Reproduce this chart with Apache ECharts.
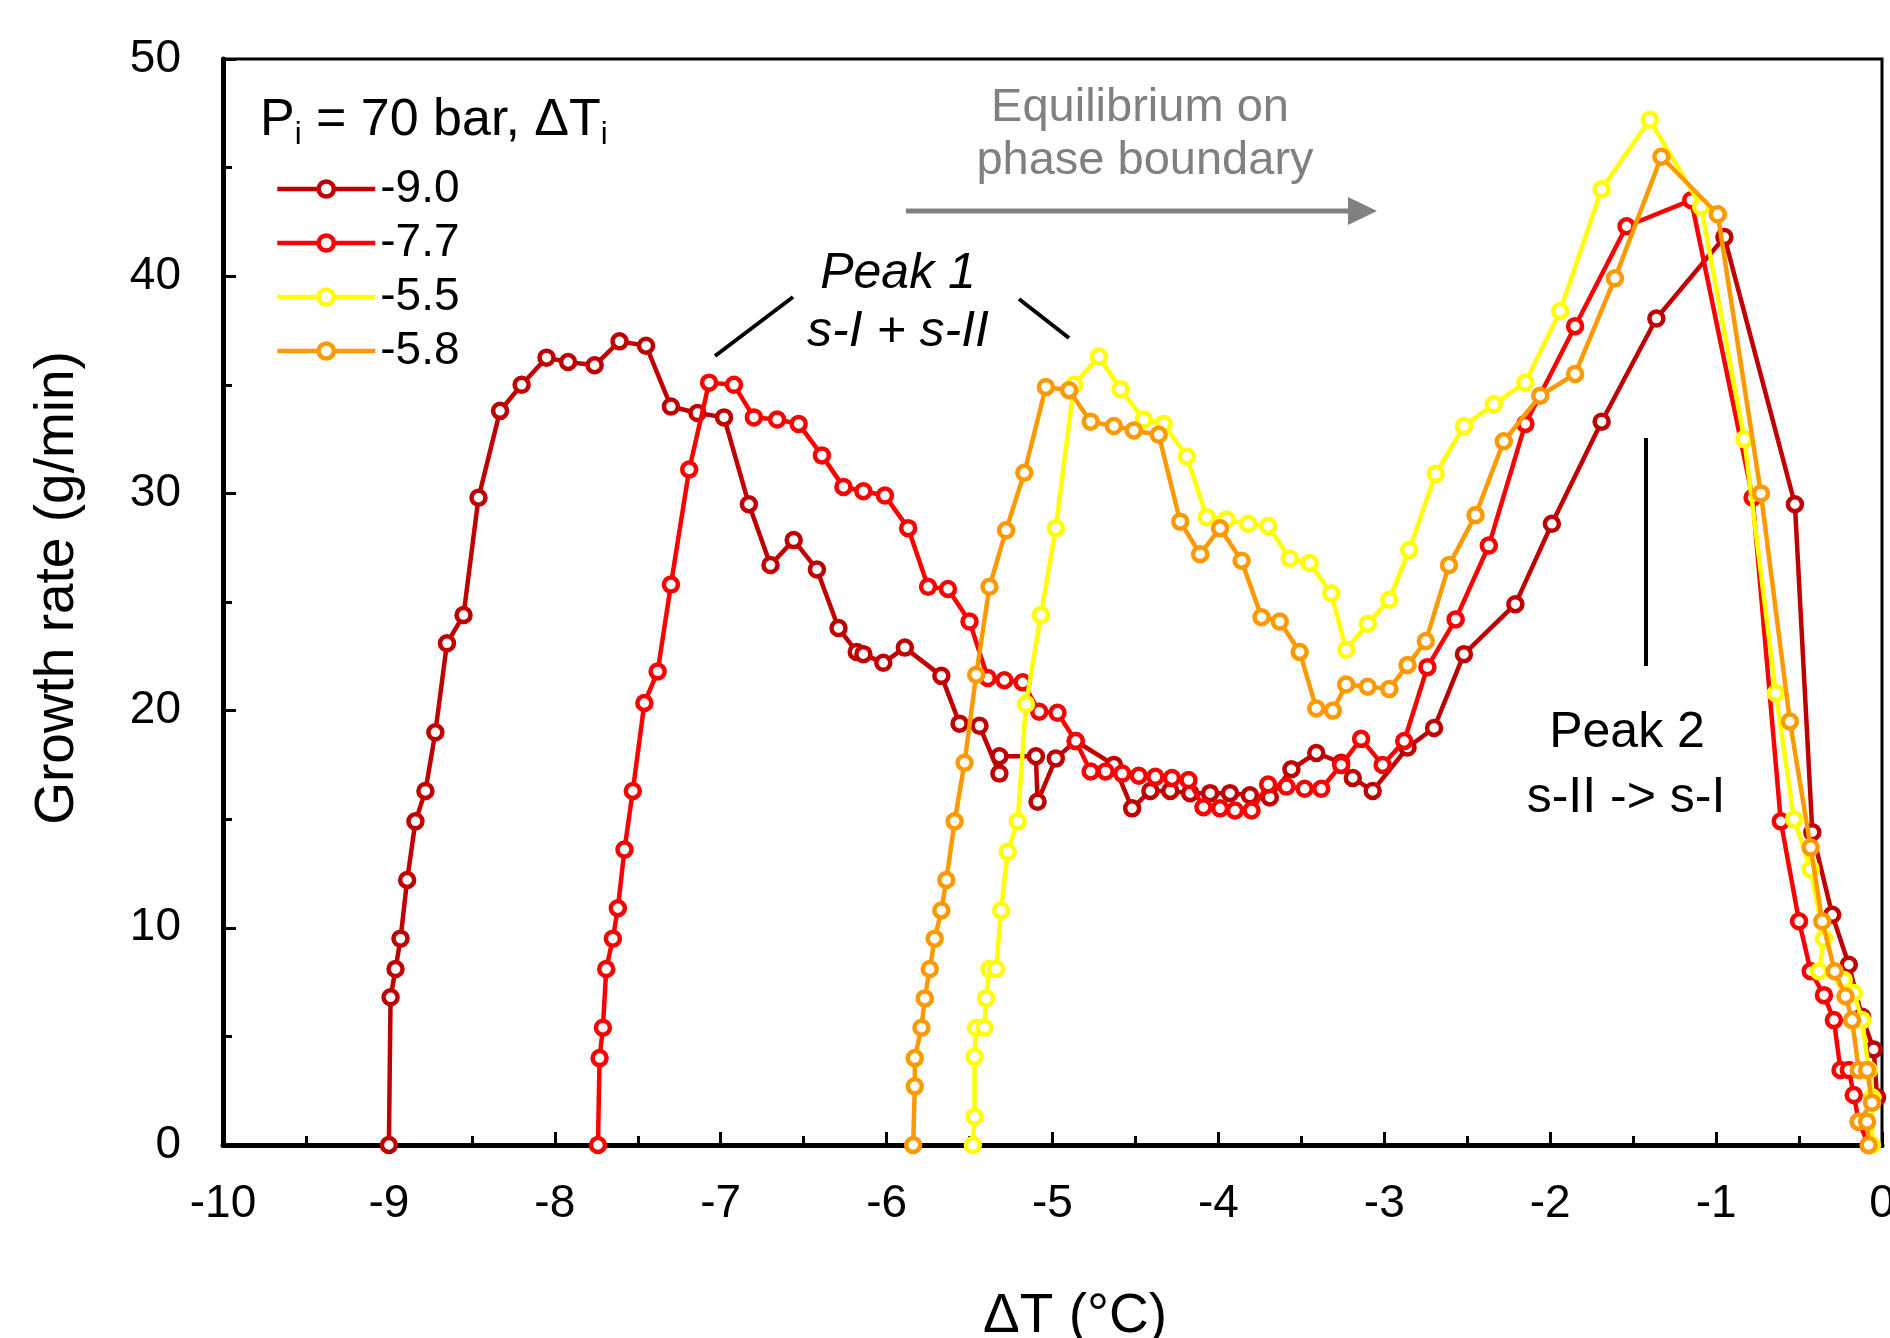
<!DOCTYPE html>
<html>
<head>
<meta charset="utf-8">
<script src="https://cdn.jsdelivr.net/npm/echarts@6/dist/echarts.min.js"></script>
<style>
html,body{margin:0;padding:0;background:#fff;}
#chart{width:1890px;height:1338px;}
</style>
</head>
<body>
<div id="chart"></div>
<script>
// ---- data (ΔT in °C, growth rate in g/min) ----
const seriesNames = ['-9.0', '-7.7', '-5.5', '-5.8'];
const seriesColors = ['#C00000', '#FF0000', '#FFFF00', '#FF9900'];

const dT_m90 = [-9.00,-8.99,-8.96,-8.93,-8.89,-8.84,-8.78,-8.72,-8.65,-8.55,-8.46,-8.33,-8.20,-8.05,-7.92,-7.76,-7.61,-7.45,-7.30,-7.14,-6.98,-6.83,-6.70,-6.56,-6.42,-6.29,-6.18,-6.14,-6.02,-5.89,-5.67,-5.56,-5.44,-5.32,-5.32,-5.10,-5.09,-4.98,-4.86,-4.63,-4.52,-4.41,-4.29,-4.17,-4.05,-3.93,-3.81,-3.69,-3.56,-3.41,-3.26,-3.19,-3.07,-2.86,-2.70,-2.52,-2.21,-1.99,-1.69,-1.36,-0.95,-0.525,-0.42,-0.30,-0.20,-0.12,-0.05,-0.03];
const rate_m90 = [0,6.8,8.1,9.5,12.2,14.9,16.3,19.0,23.1,24.4,29.8,33.8,35.0,36.25,36.05,35.9,37.0,36.8,34.0,33.7,33.5,29.5,26.7,27.85,26.5,23.8,22.7,22.6,22.2,22.9,21.6,19.4,19.3,17.1,17.9,17.9,15.8,17.8,18.6,17.5,15.5,16.3,16.3,16.2,16.2,16.2,16.1,16.0,17.3,18.05,17.6,16.9,16.3,18.3,19.2,22.6,24.9,28.6,33.3,38.05,41.8,29.5,14.4,10.6,8.3,5.9,4.4,2.2];

const dT_m77 = [-7.74,-7.73,-7.71,-7.69,-7.65,-7.62,-7.58,-7.53,-7.46,-7.38,-7.30,-7.19,-7.07,-6.92,-6.80,-6.66,-6.53,-6.39,-6.26,-6.14,-6.01,-5.87,-5.75,-5.63,-5.50,-5.39,-5.29,-5.18,-5.08,-4.97,-4.86,-4.77,-4.68,-4.58,-4.48,-4.38,-4.28,-4.18,-4.09,-3.99,-3.90,-3.80,-3.70,-3.59,-3.48,-3.38,-3.26,-3.14,-3.01,-2.88,-2.74,-2.57,-2.37,-2.15,-1.85,-1.54,-1.15,-0.78,-0.61,-0.50,-0.43,-0.35,-0.29,-0.25,-0.20,-0.17,-0.14,-0.08];
const rate_m77 = [0,4.0,5.4,8.1,9.5,10.9,13.6,16.3,20.35,21.8,25.8,31.1,35.1,35.0,33.5,33.4,33.2,31.75,30.3,30.1,29.9,28.4,25.7,25.6,24.1,21.5,21.4,21.3,19.95,19.9,18.6,17.2,17.2,17.1,17.0,16.95,16.9,16.8,15.55,15.5,15.4,15.4,16.6,16.5,16.4,16.4,17.5,18.7,17.5,18.6,22.0,24.2,27.6,33.2,37.7,42.3,43.5,29.8,14.9,10.3,8.0,6.9,5.75,3.45,3.45,2.3,1.07,0];

const dT_m55 = [-5.48,-5.47,-5.47,-5.46,-5.41,-5.40,-5.38,-5.34,-5.31,-5.27,-5.21,-5.16,-5.07,-4.98,-4.87,-4.72,-4.59,-4.45,-4.33,-4.19,-4.07,-3.95,-3.82,-3.70,-3.57,-3.45,-3.32,-3.23,-3.10,-2.97,-2.85,-2.69,-2.52,-2.34,-2.15,-1.94,-1.69,-1.40,-1.09,-0.83,-0.64,-0.53,-0.43,-0.35,-0.38,-0.23,-0.17,-0.12,-0.08,-0.06,-0.06];
const rate_m55 = [0,1.3,4.06,5.4,5.4,6.75,8.1,8.1,10.8,13.5,14.9,20.3,24.4,28.4,35.0,36.3,34.8,33.4,33.2,31.7,28.9,28.8,28.6,28.5,27.0,26.8,25.4,22.8,24.0,25.1,27.4,30.9,33.1,34.1,35.1,38.4,44.0,47.2,43.2,32.5,20.8,15.0,12.7,9.5,8.0,7.6,7.0,5.75,3.45,2.2,0];

const dT_m58 = [-5.84,-5.83,-5.83,-5.79,-5.77,-5.74,-5.71,-5.67,-5.64,-5.59,-5.53,-5.46,-5.38,-5.28,-5.17,-5.04,-4.90,-4.77,-4.63,-4.51,-4.36,-4.23,-4.11,-3.99,-3.86,-3.74,-3.63,-3.51,-3.41,-3.31,-3.23,-3.10,-2.97,-2.86,-2.75,-2.61,-2.45,-2.28,-2.06,-1.85,-1.61,-1.33,-0.99,-0.73,-0.555,-0.43,-0.36,-0.285,-0.22,-0.18,-0.14,-0.09,-0.06,-0.14,-0.09,-0.08];
const rate_m58 = [0,2.7,4.0,5.4,6.75,8.1,9.5,10.8,12.2,14.9,17.6,21.65,25.7,28.3,30.95,34.9,34.75,33.3,33.1,32.9,32.7,28.7,27.2,28.4,26.9,24.3,24.1,22.7,20.1,20.0,21.2,21.1,21.0,22.1,23.2,26.7,29.0,32.4,34.5,35.5,39.9,45.5,42.85,30.0,19.5,13.7,10.3,8.0,6.85,5.75,3.45,3.45,1.95,1.07,1.07,0];

const xValues = [dT_m90, dT_m77, dT_m55, dT_m58];
const yValues = [rate_m90, rate_m77, rate_m55, rate_m58];

const xAxisRange = { min: -10, max: 0, interval: 1 };
const yAxisRange = { min: 0, max: 50, interval: 10 };

// ---- chart ----
const FONT = '"Liberation Sans", Arial, Helvetica, sans-serif';
const chart = echarts.init(document.getElementById('chart'), null, { renderer: 'canvas' });

const series = seriesNames.map((name, i) => ({
  name: name,
  type: 'line',
  data: xValues[i].map((x, j) => [x, yValues[i][j]]),
  symbol: 'circle',
  symbolSize: 14,
  showSymbol: true,
  showAllSymbol: true,
  clip: false,
  color: seriesColors[i],
  lineStyle: { color: seriesColors[i], width: 4.5 },
  itemStyle: { color: '#ffffff', borderColor: seriesColors[i], borderWidth: 4.5 },
  emphasis: { disabled: true },
  animation: false,
  z: 2 + i
}));

const axisCommon = {
  axisLine: { show: true, onZero: false, lineStyle: { color: '#000', width: 5 } },
  axisTick: { show: true, inside: true, length: 13, lineStyle: { color: '#000', width: 3 } },
  minorTick: { show: true, splitNumber: 2, length: 9, lineStyle: { color: '#000', width: 3 } },
  splitLine: { show: false },
  minorSplitLine: { show: false },
  axisLabel: { color: '#000', fontSize: 46, fontFamily: FONT, showMinLabel: true, showMaxLabel: true }
};

const option = {
  backgroundColor: '#ffffff',
  animation: false,
  grid: {
    left: 223, top: 59, right: 8, bottom: 193,
    show: true, borderColor: '#000', borderWidth: 3, backgroundColor: 'transparent',
    containLabel: false, outerBoundsMode: 'none'
  },
  xAxis: Object.assign({}, axisCommon, {
    type: 'value', min: xAxisRange.min, max: xAxisRange.max, interval: xAxisRange.interval,
    axisLabel: Object.assign({}, axisCommon.axisLabel, { margin: 36 })
  }),
  yAxis: Object.assign({}, axisCommon, {
    type: 'value', min: yAxisRange.min, max: yAxisRange.max, interval: yAxisRange.interval,
    axisLabel: Object.assign({}, axisCommon.axisLabel, { margin: 42 })
  }),
  legend: {
    orient: 'vertical',
    left: 275, top: 162,
    padding: 0,
    itemWidth: 98, itemHeight: 19, itemGap: 0,
    data: seriesNames,
    selectedMode: false,
    textStyle: { color: '#000', fontSize: 46, lineHeight: 54, fontFamily: FONT },
    itemStyle: { borderWidth: 4.5 },
    lineStyle: { width: 4.5 }
  },
  graphic: [
    // legend title
    { type: 'text', x: 260, y: 121, z: 100,
      style: {
        text: '{a|P}{s|i}{a| = 70 bar, ΔT}{s|i}',
        align: 'left', verticalAlign: 'middle', textAlign: 'left', textVerticalAlign: 'middle',
        rich: {
          a: { fontSize: 52, fontFamily: FONT, fill: '#000', color: '#000', lineHeight: 60, verticalAlign: 'middle' },
          s: { fontSize: 31, fontFamily: FONT, fill: '#000', color: '#000', lineHeight: 26, verticalAlign: 'bottom' }
        }
      } },
    // equilibrium annotation
    { type: 'text', x: 1140, y: 108, z: 100,
      style: { text: 'Equilibrium on', font: '47px ' + FONT, fill: '#808080', align: 'center', verticalAlign: 'middle', textAlign: 'center', textVerticalAlign: 'middle' } },
    { type: 'text', x: 1145, y: 161, z: 100,
      style: { text: 'phase boundary', font: '47px ' + FONT, fill: '#808080', align: 'center', verticalAlign: 'middle', textAlign: 'center', textVerticalAlign: 'middle' } },
    { type: 'line', z: 100, shape: { x1: 906, y1: 211, x2: 1352, y2: 211 }, style: { stroke: '#808080', lineWidth: 5 } },
    { type: 'polygon', z: 100, shape: { points: [[1348, 197], [1377, 211], [1348, 225]] }, style: { fill: '#808080' } },
    // Peak 1
    { type: 'text', x: 898, y: 274, z: 100,
      style: { text: 'Peak 1', font: 'italic 50px ' + FONT, fill: '#000', align: 'center', verticalAlign: 'middle', textAlign: 'center', textVerticalAlign: 'middle' } },
    { type: 'text', x: 898, y: 332, z: 100,
      style: { text: 's-I + s-II', font: 'italic 50px ' + FONT, fill: '#000', align: 'center', verticalAlign: 'middle', textAlign: 'center', textVerticalAlign: 'middle' } },
    { type: 'line', z: 100, shape: { x1: 715, y1: 356, x2: 793, y2: 297 }, style: { stroke: '#000', lineWidth: 4 } },
    { type: 'line', z: 100, shape: { x1: 1019, y1: 299, x2: 1069, y2: 338 }, style: { stroke: '#000', lineWidth: 4 } },
    // Peak 2
    { type: 'line', z: 100, shape: { x1: 1646, y1: 438, x2: 1646, y2: 666 }, style: { stroke: '#000', lineWidth: 4 } },
    { type: 'text', x: 1627, y: 733, z: 100,
      style: { text: 'Peak 2', font: '50px ' + FONT, fill: '#000', align: 'center', verticalAlign: 'middle', textAlign: 'center', textVerticalAlign: 'middle' } },
    { type: 'text', x: 1626, y: 798, z: 100,
      style: { text: 's-II -> s-I', font: '50px ' + FONT, fill: '#000', align: 'center', verticalAlign: 'middle', textAlign: 'center', textVerticalAlign: 'middle' } },
    // axis titles
    { type: 'text', x: 1075, y: 1317, z: 100,
      style: { text: 'ΔT (°C)', font: '55px ' + FONT, fill: '#000', align: 'center', verticalAlign: 'middle', textAlign: 'center', textVerticalAlign: 'middle' } },
    { type: 'text', x: 58, y: 588, rotation: Math.PI / 2, z: 100,
      style: { text: 'Growth rate (g/min)', font: '55px ' + FONT, fill: '#000', align: 'center', verticalAlign: 'middle', textAlign: 'center', textVerticalAlign: 'middle' } }
  ],
  series: series
};

chart.setOption(option);
</script>
</body>
</html>
